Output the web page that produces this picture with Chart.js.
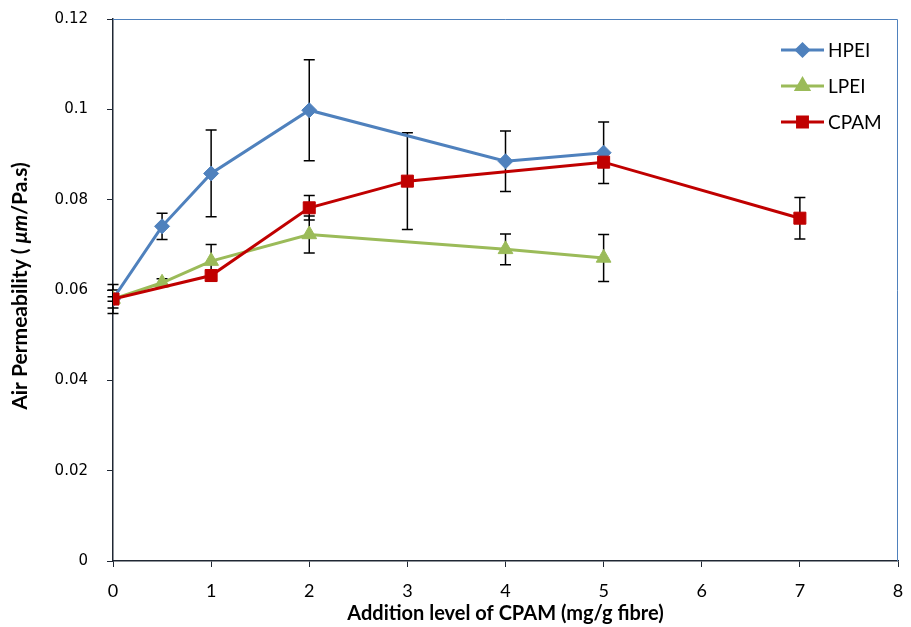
<!DOCTYPE html>
<html>
<head>
<meta charset="utf-8">
<script src="https://cdn.jsdelivr.net/npm/chart.js@4.4.1/dist/chart.umd.min.js"></script>
<style>
  html, body { margin: 0; padding: 0; background: #fff; }
  #wrap { width: 911px; height: 627px; }
</style>
</head>
<body>
<div id="wrap"><canvas id="grafico" width="911" height="627"></canvas></div>
<script>
// valores
const xTicks = [0, 1, 2, 3, 4, 5, 6, 7, 8];
const yTicks = [0, 0.02, 0.04, 0.06, 0.08, 0.1, 0.12];

const xHPEI = [0, 0.5, 1, 2, 4, 5];
const yHPEI = [0.058, 0.0741, 0.0858, 0.0998, 0.0885, 0.0904];
const errHPEI = [0.002, 0.0029, 0.0096, 0.0112, 0.0067, 0.0068];

const xLPEI = [0, 0.5, 1, 2, 4, 5];
const yLPEI = [0.058, 0.0616, 0.0664, 0.0723, 0.0690, 0.0671];
const errLPEI = [0.0005, 0.0009, 0.0037, 0.0041, 0.0034, 0.0052];

const xCPAM = [0, 1, 2, 3, 5, 7];
const yCPAM = [0.058, 0.0632, 0.0782, 0.0841, 0.0883, 0.0759];
const errCPAM = [0.0032, 0.0012, 0.0027, 0.0107, 0.0008, 0.0046];

function pontos(xs, ys, errs) {
  return xs.map((x, i) => ({ x: x, y: ys[i], err: errs[i] }));
}

// barras de erro
const errorBars = {
  id: 'errorBars',
  beforeDatasetsDraw(chart) {
    const ctx = chart.ctx;
    const xs = chart.scales.x, ys = chart.scales.y;
    ctx.save();
    ctx.strokeStyle = '#000';
    ctx.lineWidth = 1.5;
    chart.data.datasets.forEach(ds => {
      ds.data.forEach(p => {
        const px = xs.getPixelForValue(p.x);
        const top = ys.getPixelForValue(p.y + p.err);
        const bot = ys.getPixelForValue(p.y - p.err);
        ctx.beginPath();
        ctx.moveTo(px, top); ctx.lineTo(px, bot);
        ctx.moveTo(px - 5.5, top); ctx.lineTo(px + 5.5, top);
        ctx.moveTo(px - 5.5, bot); ctx.lineTo(px + 5.5, bot);
        ctx.stroke();
      });
    });
    ctx.restore();
  }
};

// moldura, título do eixo y e legenda
const extras = {
  id: 'extras',
  afterDraw(chart) {
    const ctx = chart.ctx;
    const a = chart.chartArea;
    ctx.save();
    // borda azul em cima e à direita
    ctx.strokeStyle = '#4f81bd';
    ctx.lineWidth = 1;
    ctx.beginPath();
    ctx.moveTo(a.left, a.top + 0.5); ctx.lineTo(a.right - 0.5, a.top + 0.5);
    ctx.lineTo(a.right - 0.5, a.bottom);
    ctx.stroke();

    // título vertical com µm em itálico
    const f = '21px Lato, "Open Sans", sans-serif';
    const parts = [
      ['bold ' + f, 'Air Permeability ( '],
      ['bold italic ' + f, 'μm'],
      ['bold ' + f, '/Pa.s)']
    ];
    let total = 0;
    parts.forEach(p => { ctx.font = p[0]; total += ctx.measureText(p[1]).width; });
    ctx.translate(20, 286);
    ctx.rotate(-Math.PI / 2);
    ctx.fillStyle = '#000';
    ctx.textBaseline = 'middle';
    let pos = -total / 2;
    parts.forEach(p => {
      ctx.font = p[0];
      ctx.fillText(p[1], pos, 0);
      pos += ctx.measureText(p[1]).width;
    });
    ctx.setTransform(1, 0, 0, 1, 0, 0);

    // legenda
    const itens = chart.data.datasets;
    const lx = 781, ly = 50, passo = 36;
    itens.forEach((ds, i) => {
      const y = ly + i * passo;
      ctx.strokeStyle = ds.borderColor;
      ctx.lineWidth = 3;
      ctx.beginPath();
      ctx.moveTo(lx, y); ctx.lineTo(lx + 43, y);
      ctx.stroke();
      ctx.fillStyle = ds.backgroundColor;
      ctx.strokeStyle = ds.backgroundColor;
      Chart.helpers.drawPoint(ctx, {
        pointStyle: ds.pointStyle, radius: ds.pointRadius - 1.5, rotation: 0, borderWidth: 1
      }, lx + 21.5, y);
      ctx.fillStyle = '#000';
      ctx.font = '19px Lato, "Open Sans", sans-serif';
      ctx.textBaseline = 'middle';
      ctx.fillText(ds.label, lx + 47, y + 1);
    });
    ctx.restore();
  }
};

// sem folga automática nas pontas dos eixos
function semFolga(s) {
  s.paddingLeft = 0; s.paddingRight = 0; s.paddingTop = 0; s.paddingBottom = 0;
}

const ctx = document.getElementById('grafico').getContext('2d');
window.grafico = new Chart(ctx, {
  type: 'scatter',
  data: {
    datasets: [
      {
        label: 'HPEI', data: pontos(xHPEI, yHPEI, errHPEI),
        borderColor: '#4f81bd', backgroundColor: '#4f81bd',
        pointStyle: 'rectRot', pointRadius: 7.5, order: 3
      },
      {
        label: 'LPEI', data: pontos(xLPEI, yLPEI, errLPEI),
        borderColor: '#9bbb59', backgroundColor: '#9bbb59',
        pointStyle: 'triangle', pointRadius: 8.5, order: 2
      },
      {
        label: 'CPAM', data: pontos(xCPAM, yCPAM, errCPAM),
        borderColor: '#c00000', backgroundColor: '#c00000',
        pointStyle: 'rect', pointRadius: 8.5, order: 1
      }
    ].map(d => Object.assign(d, { showLine: true, borderWidth: 3, pointBorderWidth: 1, tension: 0 }))
  },
  options: {
    responsive: false,
    animation: false,
    layout: { padding: { top: 19, right: 13, left: 0, bottom: 0 } },
    plugins: { legend: { display: false }, tooltip: { enabled: false } },
    scales: {
      x: { // horizontal
        type: 'linear', min: 0, max: 8,
        afterBuildTicks: s => { s.ticks = xTicks.map(v => ({ value: v })); },
        afterFit: s => { s.height = 66; semFolga(s); },
        grid: { display: true, drawOnChartArea: false, tickLength: 6, color: '#1f2733' },
        border: { color: '#1f2733', width: 1.5 },
        ticks: { color: '#000', font: { family: 'Lato, "Open Sans", sans-serif', size: 18 }, padding: 13 },
        title: {
          display: true, text: 'Addition level of CPAM (mg/g fibre)', color: '#000',
          font: { family: 'Lato, "Open Sans", sans-serif', size: 20, weight: 'bold' }, padding: { top: 0, bottom: 1 }
        }
      },
      y: { // vertical
        min: 0, max: 0.12,
        afterBuildTicks: s => { s.ticks = yTicks.map(v => ({ value: v })); },
        afterFit: s => { s.width = 113; semFolga(s); },
        grid: { display: true, drawOnChartArea: false, tickLength: 6, color: '#1f2733' },
        border: { color: '#1f2733', width: 1.5 },
        ticks: {
          color: '#000', font: { family: '"DejaVu Sans", sans-serif', size: 15 }, padding: 19,
          callback: v => String(Number(v.toFixed(2)))
        }
      }
    }
  },
  plugins: [errorBars, extras]
});
</script>
</body>
</html>
